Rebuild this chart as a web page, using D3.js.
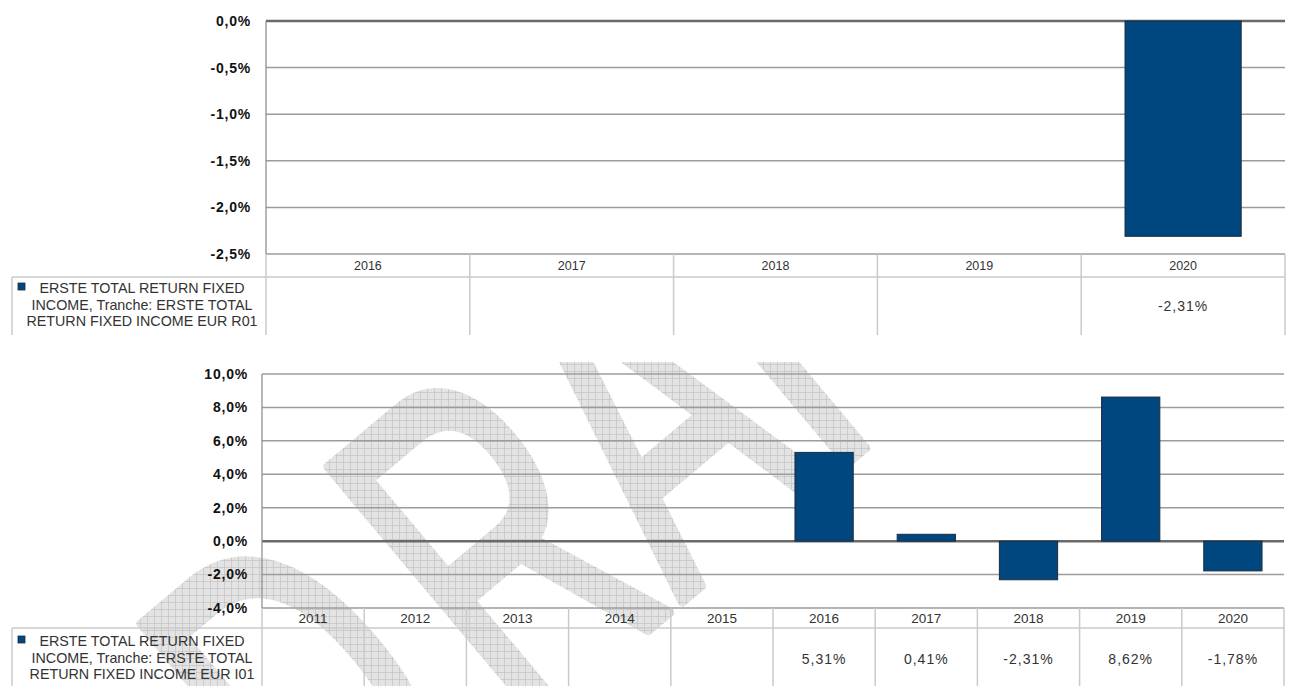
<!DOCTYPE html>
<html>
<head>
<meta charset="utf-8">
<script src="https://cdn.jsdelivr.net/npm/d3@7"></script>
<style>
  body { margin: 0; background: #fff; }
  svg { display: block; font-family: "Liberation Sans", Arial, sans-serif; }
  .tick-label { font-size: 14px; font-weight: bold; fill: #111; letter-spacing: 0.8px; }
  .year-label { fill: #333; }
  .cell-value { font-size: 14px; fill: #333; letter-spacing: 1px; }
  .legend-text { font-size: 14.3px; fill: #333; }
</style>
</head>
<body>
<svg id="chart"></svg>
<script>
// data
const yearsTop = ['2016', '2017', '2018', '2019', '2020'];
const valuesTop = [null, null, null, null, -2.31];
const ticksTop = [0, -0.5, -1, -1.5, -2, -2.5];
const legendTop = ['ERSTE TOTAL RETURN FIXED', 'INCOME, Tranche: ERSTE TOTAL', 'RETURN FIXED INCOME EUR R01'];

const yearsBottom = ['2011', '2012', '2013', '2014', '2015', '2016', '2017', '2018', '2019', '2020'];
const valuesBottom = [null, null, null, null, null, 5.31, 0.41, -2.31, 8.62, -1.78];
const ticksBottom = [10, 8, 6, 4, 2, 0, -2, -4];
const legendBottom = ['ERSTE TOTAL RETURN FIXED', 'INCOME, Tranche: ERSTE TOTAL', 'RETURN FIXED INCOME EUR I01'];

const watermark = 'DRAFT';

const W = 1295, H = 686;
const barColor = '#00467f';

const locale = d3.formatLocale({decimal: ',', thousands: '.', grouping: [3], currency: ['', '€'], minus: '-'});
const fmtTick = locale.format('.1f');
const fmtVal = locale.format('.2f');

const svg = d3.select('#chart').attr('width', W).attr('height', H);

// watermark: checkered grey fill masked by big rotated text, behind the charts
const defs = svg.append('defs');
const pat = defs.append('pattern')
    .attr('id', 'grid')
    .attr('patternUnits', 'userSpaceOnUse')
    .attr('width', 7).attr('height', 7);
pat.append('rect').attr('width', 7).attr('height', 7).attr('fill', '#e3e3e3');
pat.append('path').attr('d', 'M0,0.4H7M0.4,0V7').attr('stroke', '#c2c2c2').attr('stroke-width', 0.8);

const fs = 480, sx = 0.6;
const adv = [0, 0.722, 1.444, 2.111, 2.722].map(a => a * fs);
adv[0] = -60;

defs.append('mask').attr('id', 'wm-mask')
  .append('text')
    .attr('transform', `translate(362,870) rotate(-40) scale(${sx},1)`)
    .attr('x', adv.join(' '))
    .attr('font-size', fs)
    .attr('fill', '#fff')
    .attr('stroke', '#fff')
    .attr('stroke-width', 10)
    .attr('stroke-linejoin', 'round')
    .text(watermark);

svg.append('rect')
    .attr('x', 0).attr('y', 362)
    .attr('width', W).attr('height', H - 362)
    .attr('fill', 'url(#grid)')
    .attr('mask', 'url(#wm-mask)');

function drawChart(cfg) {
  const g = svg.append('g');

  const x = d3.scaleBand()
      .domain(cfg.years)
      .range([cfg.left, cfg.right])
      .paddingInner(0.43)
      .paddingOuter(0.215);

  const y = d3.scaleLinear()
      .domain(cfg.domain)
      .range([cfg.bottom, cfg.top]);

  // gridlines
  g.append('g').selectAll('line')
    .data(cfg.ticks)
    .join('line')
      .attr('x1', cfg.left).attr('x2', cfg.right)
      .attr('y1', d => y(d)).attr('y2', d => y(d))
      .attr('stroke', d => d === 0 ? '#6a6a6a' : '#9c9c9c')
      .attr('stroke-width', d => d === 0 ? 2.5 : 1.5);

  // left axis line
  g.append('line')
      .attr('x1', cfg.left).attr('x2', cfg.left)
      .attr('y1', cfg.top).attr('y2', cfg.bottom)
      .attr('stroke', '#888').attr('stroke-width', 1.2);

  // tick labels
  g.append('g').selectAll('text')
    .data(cfg.ticks)
    .join('text')
      .attr('class', 'tick-label')
      .attr('x', cfg.labelX)
      .attr('y', d => y(d))
      .attr('dy', '0.35em')
      .attr('text-anchor', 'end')
      .text(d => fmtTick(d) + '%');

  // bars
  const bars = cfg.years.map((yr, i) => ({year: yr, value: cfg.values[i]})).filter(d => d.value !== null);
  g.append('g').selectAll('rect')
    .data(bars)
    .join('rect')
      .attr('x', d => x(d.year))
      .attr('width', x.bandwidth())
      .attr('y', d => y(Math.max(0, d.value)))
      .attr('height', d => Math.abs(y(d.value) - y(0)))
      .attr('fill', barColor)
      .attr('stroke', '#1b2c3c')
      .attr('stroke-width', 1);

  // data table under the chart
  const step = x.step();
  const bounds = d3.range(cfg.years.length + 1).map(i => cfg.left + i * step);
  const rowMid = cfg.bottom + cfg.headerH;
  const tg = g.append('g').attr('stroke', '#cacaca').attr('stroke-width', 1.5);

  tg.selectAll('.vline')
    .data(bounds)
    .join('line')
      .attr('class', 'vline')
      .attr('x1', d => d).attr('x2', d => d)
      .attr('y1', cfg.bottom).attr('y2', cfg.tableBottom);

  tg.append('line')
      .attr('x1', 12).attr('x2', cfg.right)
      .attr('y1', rowMid).attr('y2', rowMid);
  tg.append('line')
      .attr('x1', 12).attr('x2', 12)
      .attr('y1', rowMid).attr('y2', cfg.tableBottom);

  g.append('g').selectAll('text')
    .data(cfg.years)
    .join('text')
      .attr('class', 'year-label')
      .attr('font-size', cfg.yearSize)
      .attr('x', d => x(d) + x.bandwidth() / 2)
      .attr('y', cfg.bottom + cfg.headerH / 2)
      .attr('dy', '0.38em')
      .attr('text-anchor', 'middle')
      .text(d => d);

  g.append('g').selectAll('text')
    .data(bars)
    .join('text')
      .attr('class', 'cell-value')
      .attr('x', d => x(d.year) + x.bandwidth() / 2)
      .attr('y', cfg.valueY)
      .attr('dy', '0.35em')
      .attr('text-anchor', 'middle')
      .text(d => fmtVal(d.value) + '%');

  // legend cell
  g.append('rect')
      .attr('x', 18).attr('y', cfg.legendY - 5)
      .attr('width', 7).attr('height', 7)
      .attr('fill', barColor)
      .attr('stroke', '#1b2c3c').attr('stroke-width', 0.8);

  g.append('g').selectAll('text')
    .data(cfg.legend)
    .join('text')
      .attr('class', 'legend-text')
      .attr('x', 142)
      .attr('y', (d, i) => cfg.legendY + i * 16.6)
      .attr('dy', '0.35em')
      .attr('text-anchor', 'middle')
      .text(d => d);
}

drawChart({
  years: yearsTop, values: valuesTop, ticks: ticksTop, legend: legendTop,
  domain: [-2.5, 0], left: 266, right: 1285, top: 21, bottom: 254,
  labelX: 251, headerH: 23, tableBottom: 335, valueY: 306, legendY: 288, yearSize: 12.5
});

drawChart({
  years: yearsBottom, values: valuesBottom, ticks: ticksBottom, legend: legendBottom,
  domain: [-4, 10], left: 262, right: 1284, top: 374, bottom: 608,
  labelX: 248, headerH: 20, tableBottom: 700, valueY: 659, legendY: 641, yearSize: 13.5
});
</script>
</body>
</html>
